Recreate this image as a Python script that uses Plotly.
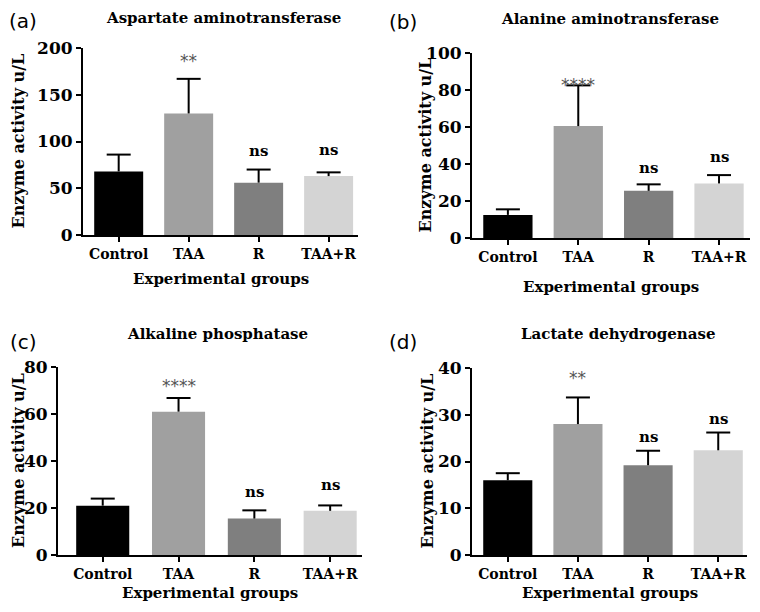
import plotly.graph_objects as go

groups = ["Control", "TAA", "R", "TAA+R"]
bar_colors = ["#000000", "#a0a0a0", "#7f7f7f", "#d4d4d4"]

titles = ["Aspartate aminotransferase", "Alanine aminotransferase",
          "Alkaline phosphatase", "Lactate dehydrogenase"]
panel_tags = ["(a)", "(b)", "(c)", "(d)"]

ast_mean = [68, 130, 56, 63]
ast_sd = [18, 37, 14, 4]
alt_mean = [12.5, 60.5, 25.5, 29.5]
alt_sd = [3, 22, 3.5, 4.5]
alp_mean = [21, 61, 15.5, 18.8]
alp_sd = [3, 5.8, 3.5, 2.3]
ldh_mean = [16, 28, 19.2, 22.4]
ldh_sd = [1.5, 5.7, 3.1, 3.8]

sig_ast = ["", "**", "ns", "ns"]
sig_alt = ["", "****", "ns", "ns"]
sig_alp = ["", "****", "ns", "ns"]
sig_ldh = ["", "**", "ns", "ns"]

y_max = [200, 100, 80, 40]
y_step = [50, 20, 20, 10]

means = [ast_mean, alt_mean, alp_mean, ldh_mean]
sds = [ast_sd, alt_sd, alp_sd, ldh_sd]
sigs = [sig_ast, sig_alt, sig_alp, sig_ldh]

W, H = 760, 612
OFF = 8  # page body margin
# pixel layout of each panel: (x0, x1, ytop, ybottom), x range
px = [(83, 358, 48, 235), (472, 750, 53, 238), (58, 362, 367, 555), (472, 747, 368, 555)]
xr = [(-0.51, 3.42), (-0.51, 3.44), (-0.59, 3.42), (-0.51, 3.41)]
title_pos = [(223, 18), (610, 19), (217, 334), (618, 334)]
tag_pos = [(23, 21), (403, 22), (23, 342), (403, 342)]
ytitle_x = [18, 425, 18, 427]
xtitle_y = [279, 287, 593, 593]
# pixel gap between error-bar top and centre of the significance label
sig_gap = [[0, 24, 19, 22], [0, 6, 16, 18], [0, 18, 18, 20], [0, 25, 14, 14]]

SERIF = "DejaVu Serif"
fig = go.Figure()
layout = dict(width=W, height=H, margin=dict(l=0, r=0, t=0, b=0, autoexpand=False),
              paper_bgcolor="white", plot_bgcolor="white", showlegend=False)
annotations = []

def fx(p):
    return (p - OFF) / W

def fy(p):
    return 1 - (p - OFF) / H

for i in range(4):
    sfx = "" if i == 0 else str(i + 1)
    x0, x1, yt, yb = px[i]
    xs = list(range(4))
    fig.add_trace(go.Bar(
        x=xs, y=means[i],
        marker=dict(color=bar_colors, line=dict(width=0)),
        width=0.7, xaxis="x" + sfx, yaxis="y" + sfx,
    ))
    # error bars (upper only) drawn as line segments
    ppu = (x1 - x0) / (xr[i][1] - xr[i][0])
    cap = 12 / ppu
    ex, ey = [], []
    for j in range(4):
        top = means[i][j] + sds[i][j]
        ex += [j, j, None, j - cap, j + cap, None]
        ey += [means[i][j], top, None, top, top, None]
    fig.add_trace(go.Scatter(x=ex, y=ey, mode="lines",
                             line=dict(color="black", width=2),
                             xaxis="x" + sfx, yaxis="y" + sfx, hoverinfo="skip"))
    layout["xaxis" + sfx] = dict(
        domain=[fx(x0), fx(x1)], anchor="y" + sfx, range=list(xr[i]),
        tickmode="array", tickvals=xs, ticktext=groups, automargin=False,
        showline=True, linecolor="black", linewidth=2,
        ticks="outside", ticklen=5, tickwidth=2, tickcolor="black",
        showgrid=False, zeroline=False,
        tickfont=dict(family=SERIF, size=14, color="black", weight="bold"),
    )
    layout["yaxis" + sfx] = dict(
        domain=[fy(yb), fy(yt)], anchor="x" + sfx, automargin=False,
        range=[0, y_max[i]], dtick=y_step[i], tick0=0,
        showline=True, linecolor="black", linewidth=2,
        ticks="outside", ticklen=5, tickwidth=2, tickcolor="black",
        showgrid=False, zeroline=False,
        tickfont=dict(family=SERIF, size=17, color="black", weight="bold"),
    )
    annotations.append(dict(text="<b>" + titles[i] + "</b>", xref="paper", yref="paper",
                            x=fx(title_pos[i][0]), y=fy(title_pos[i][1]),
                            xanchor="center", yanchor="middle", showarrow=False,
                            font=dict(family=SERIF, size=15, color="black")))
    annotations.append(dict(text=panel_tags[i], xref="paper", yref="paper",
                            x=fx(tag_pos[i][0]), y=fy(tag_pos[i][1]),
                            xanchor="center", yanchor="middle", showarrow=False,
                            font=dict(family="DejaVu Sans", size=20, color="black")))
    annotations.append(dict(text="<b>Enzyme activity u/L</b>", xref="paper", yref="paper",
                            x=fx(ytitle_x[i]), y=fy((yt + yb) / 2), textangle=-90,
                            xanchor="center", yanchor="middle", showarrow=False,
                            font=dict(family=SERIF, size=16, color="black")))
    annotations.append(dict(text="<b>Experimental groups</b>", xref="paper", yref="paper",
                            x=fx((x0 + x1) / 2), y=fy(xtitle_y[i]),
                            xanchor="center", yanchor="middle", showarrow=False,
                            font=dict(family=SERIF, size=15, color="black")))
    for j in range(4):
        s = sigs[i][j]
        if not s:
            continue
        is_star = s.startswith("*")
        annotations.append(dict(
            text=s if is_star else "<b>" + s + "</b>",
            xref="x" + sfx, yref="y" + sfx, x=j, y=means[i][j] + sds[i][j],
            xanchor="center", yanchor="middle",
            yshift=sig_gap[i][j] + (-6 if is_star else 0),
            showarrow=False,
            font=dict(family="DejaVu Sans" if is_star else SERIF,
                      size=17 if is_star else 15,
                      color="#555555" if is_star else "black")))

layout["annotations"] = annotations
fig.update_layout(**layout)
fig.write_html("out.html")
